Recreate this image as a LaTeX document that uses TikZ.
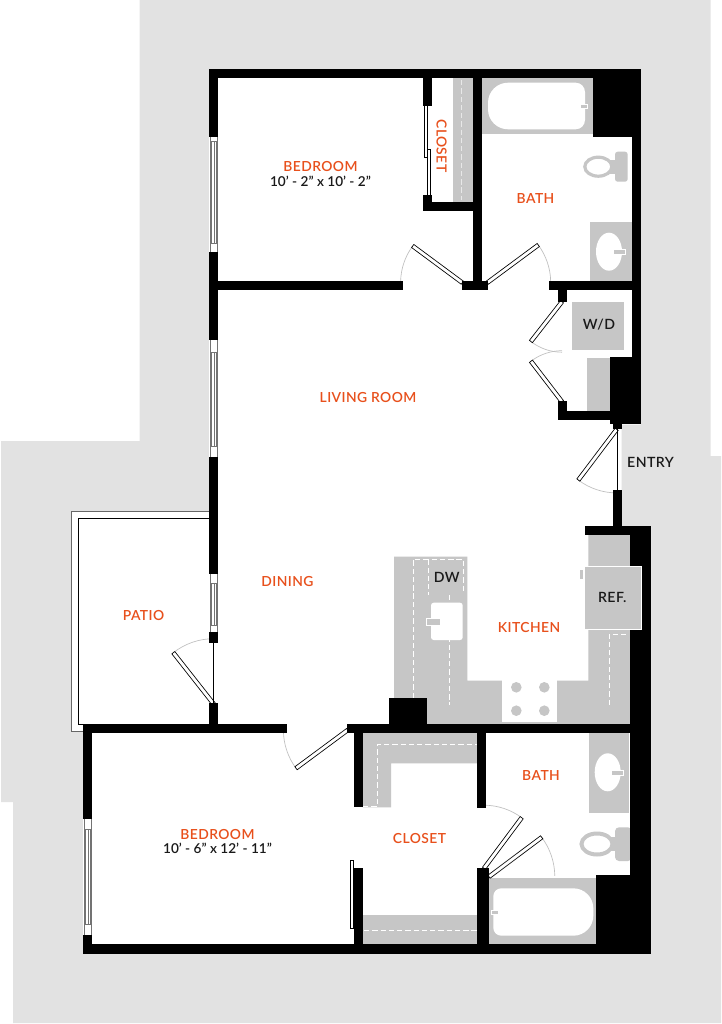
\documentclass[tikz,border=0pt]{standalone}
\usepackage{fontspec}
\usepackage{xcolor}
\setmainfont{Lato Semibold}
\newfontfamily\spacedfont[LetterSpace=3]{Lato Semibold}
\usetikzlibrary{positioning}
\definecolor{sitegrey}{HTML}{E2E2E2}
\definecolor{fixgrey}{HTML}{C6C6C6}
\definecolor{roomorange}{HTML}{E8501C}
\newcommand{\doorswing}[5]{
    \draw [swing] (#1,#2) ++(#3:#5) arc[start angle=#3, delta angle=#4, radius=#5];
    \draw [leaf, shift={(#1,#2)}, rotate=-#3] (0,-1.9) rectangle (#5,1.9);
}
\newcommand{\sash}[5]{
    \fill [white] (#1,#2) rectangle (#1+9,#5);
    \draw [sashline] (#1+1,#2) -- (#1+1,#5);
    \draw [sashline] (#1+8,#2) -- (#1+8,#5);
    \draw [sashline, fill=white] (#1+2,#3) rectangle (#1+7,#4);
    \draw [sashline] (#1+4.5,#3) -- (#1+4.5,#4);
}

\begin{document}
\begin{tikzpicture}[
    x=0.75pt, y=-0.75pt,
    every node/.style={align=center, inner sep=0pt},
    wall/.style={fill=black},
    fixture/.style={fill=fixgrey},
    basin/.style={fill=white},
    tap/.style={fill=fixgrey, draw=white, line width=0.5pt},
    seat/.style={draw=fixgrey, line width=2.4pt, fill=white},
    counterline/.style={draw=white, line width=0.6pt, dash pattern=on 4pt off 2.2pt},
    swing/.style={draw=black!25, line width=0.5pt},
    leaf/.style={draw=black, fill=white, line width=0.5pt},
    sashline/.style={draw=black!55, line width=0.45pt},
    roomlabel/.style={text=roomorange, font=\spacedfont\fontsize{10.4}{12}\selectfont},
    dimlabel/.style={text=black!90, font=\fontsize{10.2}{12}\selectfont},
    tag/.style={text=black!90, font=\spacedfont\fontsize{10.6}{12}\selectfont}
]
\useasboundingbox (0,0) rectangle (721,1024);

% Site
\fill [sitegrey] (139.5,0) -- (710.5,0) -- (710.5,456) -- (721,456) -- (721,1023) -- (13,1023) -- (13,802) -- (1,802) -- (1,441) -- (139.5,441) -- cycle;
\fill [white] (209,69.5) -- (640.5,69.5) -- (640.5,424.5) -- (621.7,424.5) -- (621.7,526) -- (651,526) -- (651,953.5) -- (83,953.5) -- (83,731.7) -- (71,731.7) -- (71,511.7) -- (209,511.7) -- cycle;

% Patio
\draw [draw=black!60, line width=0.6pt] (210,511.7) -- (71,511.7) -- (71,731.7) -- (84,731.7);
\draw [draw=black, line width=0.6pt] (210,518.3) -- (78.3,518.3) -- (78.3,724) -- (84,724);

% Upper bath
\fill [fixture] (482.3,78) rectangle (593.3,134);
\fill [basin] (536,82.7) [rounded corners=7pt] -- (585,82.7) -- (585,129.3) [rounded corners=15pt] -- (488,129.3) -- (488,82.7) [sharp corners] -- cycle;
\fill [tap] (580,104) rectangle (587.5,108.6);
\fill [fixture, rounded corners=2pt] (615,151.7) rectangle (627.7,181.7);
\fill [fixture] (608,160) rectangle (616,174);
\draw [seat] (598.3,166.7) ellipse [x radius=13.5, y radius=9.5];
\fill [fixture] (590,221.7) rectangle (632,281);
\fill [basin] (609,251.7) ellipse [x radius=13, y radius=19];
\fill [tap] (613.3,249) rectangle (625,254);

% Upper closet
\fill [fixture] (453.3,78) rectangle (473,202);
\draw [counterline, draw=fixgrey!40!white] (461,80) -- (461,200);
\draw [leaf] (424.5,105.7) rectangle (427.3,157.7);
\draw [leaf] (427.5,149) rectangle (430.5,195);

% Laundry
\fill [fixture] (571.7,301.7) rectangle (624,350);
\fill [fixture] (587.3,358.3) rectangle (610,411);
\node (washer) [tag] at (599,325) {W/D};

% Kitchen
\fill [fixture] (394,556.7) -- (467.3,556.7) -- (467.3,680.7) -- (588.3,680.7) -- (588.3,535) -- (630,535) -- (630,724) -- (394,724) -- cycle;
\draw [counterline] (413.3,698) -- (413.3,559.3) -- (463.3,559.3) -- (463.3,592.7);
\draw [counterline] (428.3,559.3) -- (428.3,595);
\draw [counterline] (449.3,595) -- (449.3,705);
\draw [counterline] (609.3,705) -- (609.3,634) -- (629,634);
\fill [basin, rounded corners=2pt] (431,602.7) rectangle (462.7,640);
\fill [tap] (426,618) rectangle (440.7,625);
\fill [basin] (502.3,676.7) rectangle (557.3,721.7);
\fill [fixture] (516.3,687.3) circle (5.3) (544.3,687.3) circle (5.3) (516.3,710.7) circle (5.3) (544.3,710.7) circle (5.3);
\fill [fixture] (580,570) rectangle (583,579);
\node (dw) [tag] at (446.7,577.3) {DW};

% Lower closet
\fill [fixture] (362.7,733) -- (477.3,733) -- (477.3,763.3) -- (391,763.3) -- (391,807.3) -- (362.7,807.3) -- cycle;
\fill [fixture] (362.7,915) rectangle (477.3,944.3);
\draw [counterline] (363,806) -- (377.7,806) -- (377.7,744.3) -- (477,744.3);
\draw [counterline] (364,930.7) -- (477,930.7);
\draw [leaf] (350,860) rectangle (353.7,928.3);

% Lower bath
\fill [fixture] (589,733) rectangle (629.3,812.7);
\fill [basin] (607.7,772.3) ellipse [x radius=13, y radius=19];
\fill [tap] (611.7,770) rectangle (623.3,775);
\fill [fixture, rounded corners=3pt] (615,827.3) rectangle (632,861);
\fill [fixture] (606,837) rectangle (616,851);
\draw [seat, line width=3pt] (597,844) ellipse [x radius=15.5, y radius=10.5];
\fill [fixture] (489.3,877.7) rectangle (596,944.3);
\fill [basin] (540,888.3) [rounded corners=15pt] -- (593.3,888.3) -- (593.3,935.7) [rounded corners=6pt] -- (493.3,935.7) -- (493.3,888.3) [sharp corners] -- cycle;
\fill [tap] (491.7,910) rectangle (498,914);

% Door swings
\doorswing{462.3}{282.7}{216.5}{-35}{61.7}
\doorswing{487.3}{282.7}{-36.5}{35}{63.4}
\doorswing{562}{301.7}{128}{-38}{50.5}
\doorswing{562}{401.7}{232.5}{37.5}{51}
\doorswing{616.7}{429.3}{127.1}{-37}{63.6}
\doorswing{213.7}{704}{231.8}{38}{65.3}
\doorswing{347.7}{730}{143.5}{36}{64.3}
\doorswing{484}{868.3}{-53.3}{-36.7}{63.1}
\doorswing{489}{876.7}{-36.8}{36}{65.8}
\draw [draw=black, line width=0.6pt] (617.3,429) -- (617.3,490);
\draw [draw=black, line width=0.6pt] (213.7,642) -- (213.7,704);

% Windows
\sash{209.3}{136.7}{141.7}{243}{252.3}
\sash{209.3}{340}{352.3}{446}{456.7}
\sash{209.3}{574}{583}{625}{631.7}
\sash{83.3}{819.3}{829.3}{924}{935}

% Outer walls
\fill [wall] (209.3,69.5) rectangle (640.5,78.5);
\fill [wall] (209.3,69.5) rectangle (218.3,136.7);
\fill [wall] (209.3,252.3) rectangle (218.3,340);
\fill [wall] (209.3,456.7) rectangle (218.3,574);
\fill [wall] (209.3,631.7) rectangle (218.3,642.7);
\fill [wall] (209.3,703.3) rectangle (218.3,724);
\fill [wall] (631.7,69.5) rectangle (640.5,424.3);
\fill [wall] (593.3,78) rectangle (640.5,137);
\fill [wall] (610,356.7) rectangle (640.5,424.3);
\fill [wall] (613.3,420) rectangle (621.7,429.3);
\fill [wall] (613.3,490) rectangle (621.7,527);
\fill [wall] (585,526) rectangle (651,535.3);
\fill [wall] (630,526) rectangle (651,953.5);
\fill [wall] (596,875) rectangle (651,953.5);
\fill [wall] (83.3,944.3) rectangle (651,953.5);
\fill [wall] (83.3,724) rectangle (91.7,819.3);
\fill [wall] (83.3,935) rectangle (91.7,953.5);

% Inner walls
\fill [wall] (209.3,281) rectangle (403.3,290);
\fill [wall] (423,78.5) rectangle (432,105.7);
\fill [wall] (423,195) rectangle (432,210.7);
\fill [wall] (423,202) rectangle (473,210.7);
\fill [wall] (473,78) rectangle (482.3,281);
\fill [wall] (462.3,281) rectangle (488.3,290);
\fill [wall] (549,281) rectangle (632,290);
\fill [wall] (558.3,290) rectangle (567,301.7);
\fill [wall] (558.3,411) rectangle (615,420);
\fill [wall] (558.3,401) rectangle (567,420);
\fill [wall] (83.3,724) rectangle (287.3,732.5);
\fill [wall] (346.7,724) rectangle (630,733);
\fill [wall] (389.3,698.3) rectangle (426.7,724);
\fill [wall] (354,733) rectangle (362.7,807.3);
\fill [wall] (354,868.3) rectangle (362.7,944.3);
\fill [wall] (477.3,733) rectangle (486,807.7);
\fill [wall] (477.3,868.3) rectangle (489.3,944.3);

% Refrigerator sits over the wall
\draw [fixture, draw=white, line width=0.7pt] (584,566.7) rectangle (641,629);
\node (ref) [tag] at (612.3,597.3) {REF.};

% Room labels
\node (bedroomA) [roomlabel] at (320.5,166.7) {BEDROOM};
\node (sizeA) [dimlabel, below=2.5pt of bedroomA] {10’ - 2” x 10’ - 2”};
\node (closetA) [roomlabel, rotate=-90] at (441.5,146) {CLOSET};
\node (bathA) [roomlabel] at (535.5,198.7) {BATH};
\node (living) [roomlabel] at (368,397.5) {LIVING ROOM};
\node (entry) [tag] at (650.5,462.5) {ENTRY};
\node (dining) [roomlabel] at (287.5,581.7) {DINING};
\node (patio) [roomlabel] at (143.5,615) {PATIO};
\node (kitchen) [roomlabel] at (529,627.5) {KITCHEN};
\node (bathB) [roomlabel] at (541,775.5) {BATH};
\node (closetB) [roomlabel] at (419.5,838.5) {CLOSET};
\node (bedroomB) [roomlabel] at (217.5,834.5) {BEDROOM};
\node (sizeB) [dimlabel, below=2.5pt of bedroomB] {10’ - 6” x 12’ - 11”};

\end{tikzpicture}
\end{document}
